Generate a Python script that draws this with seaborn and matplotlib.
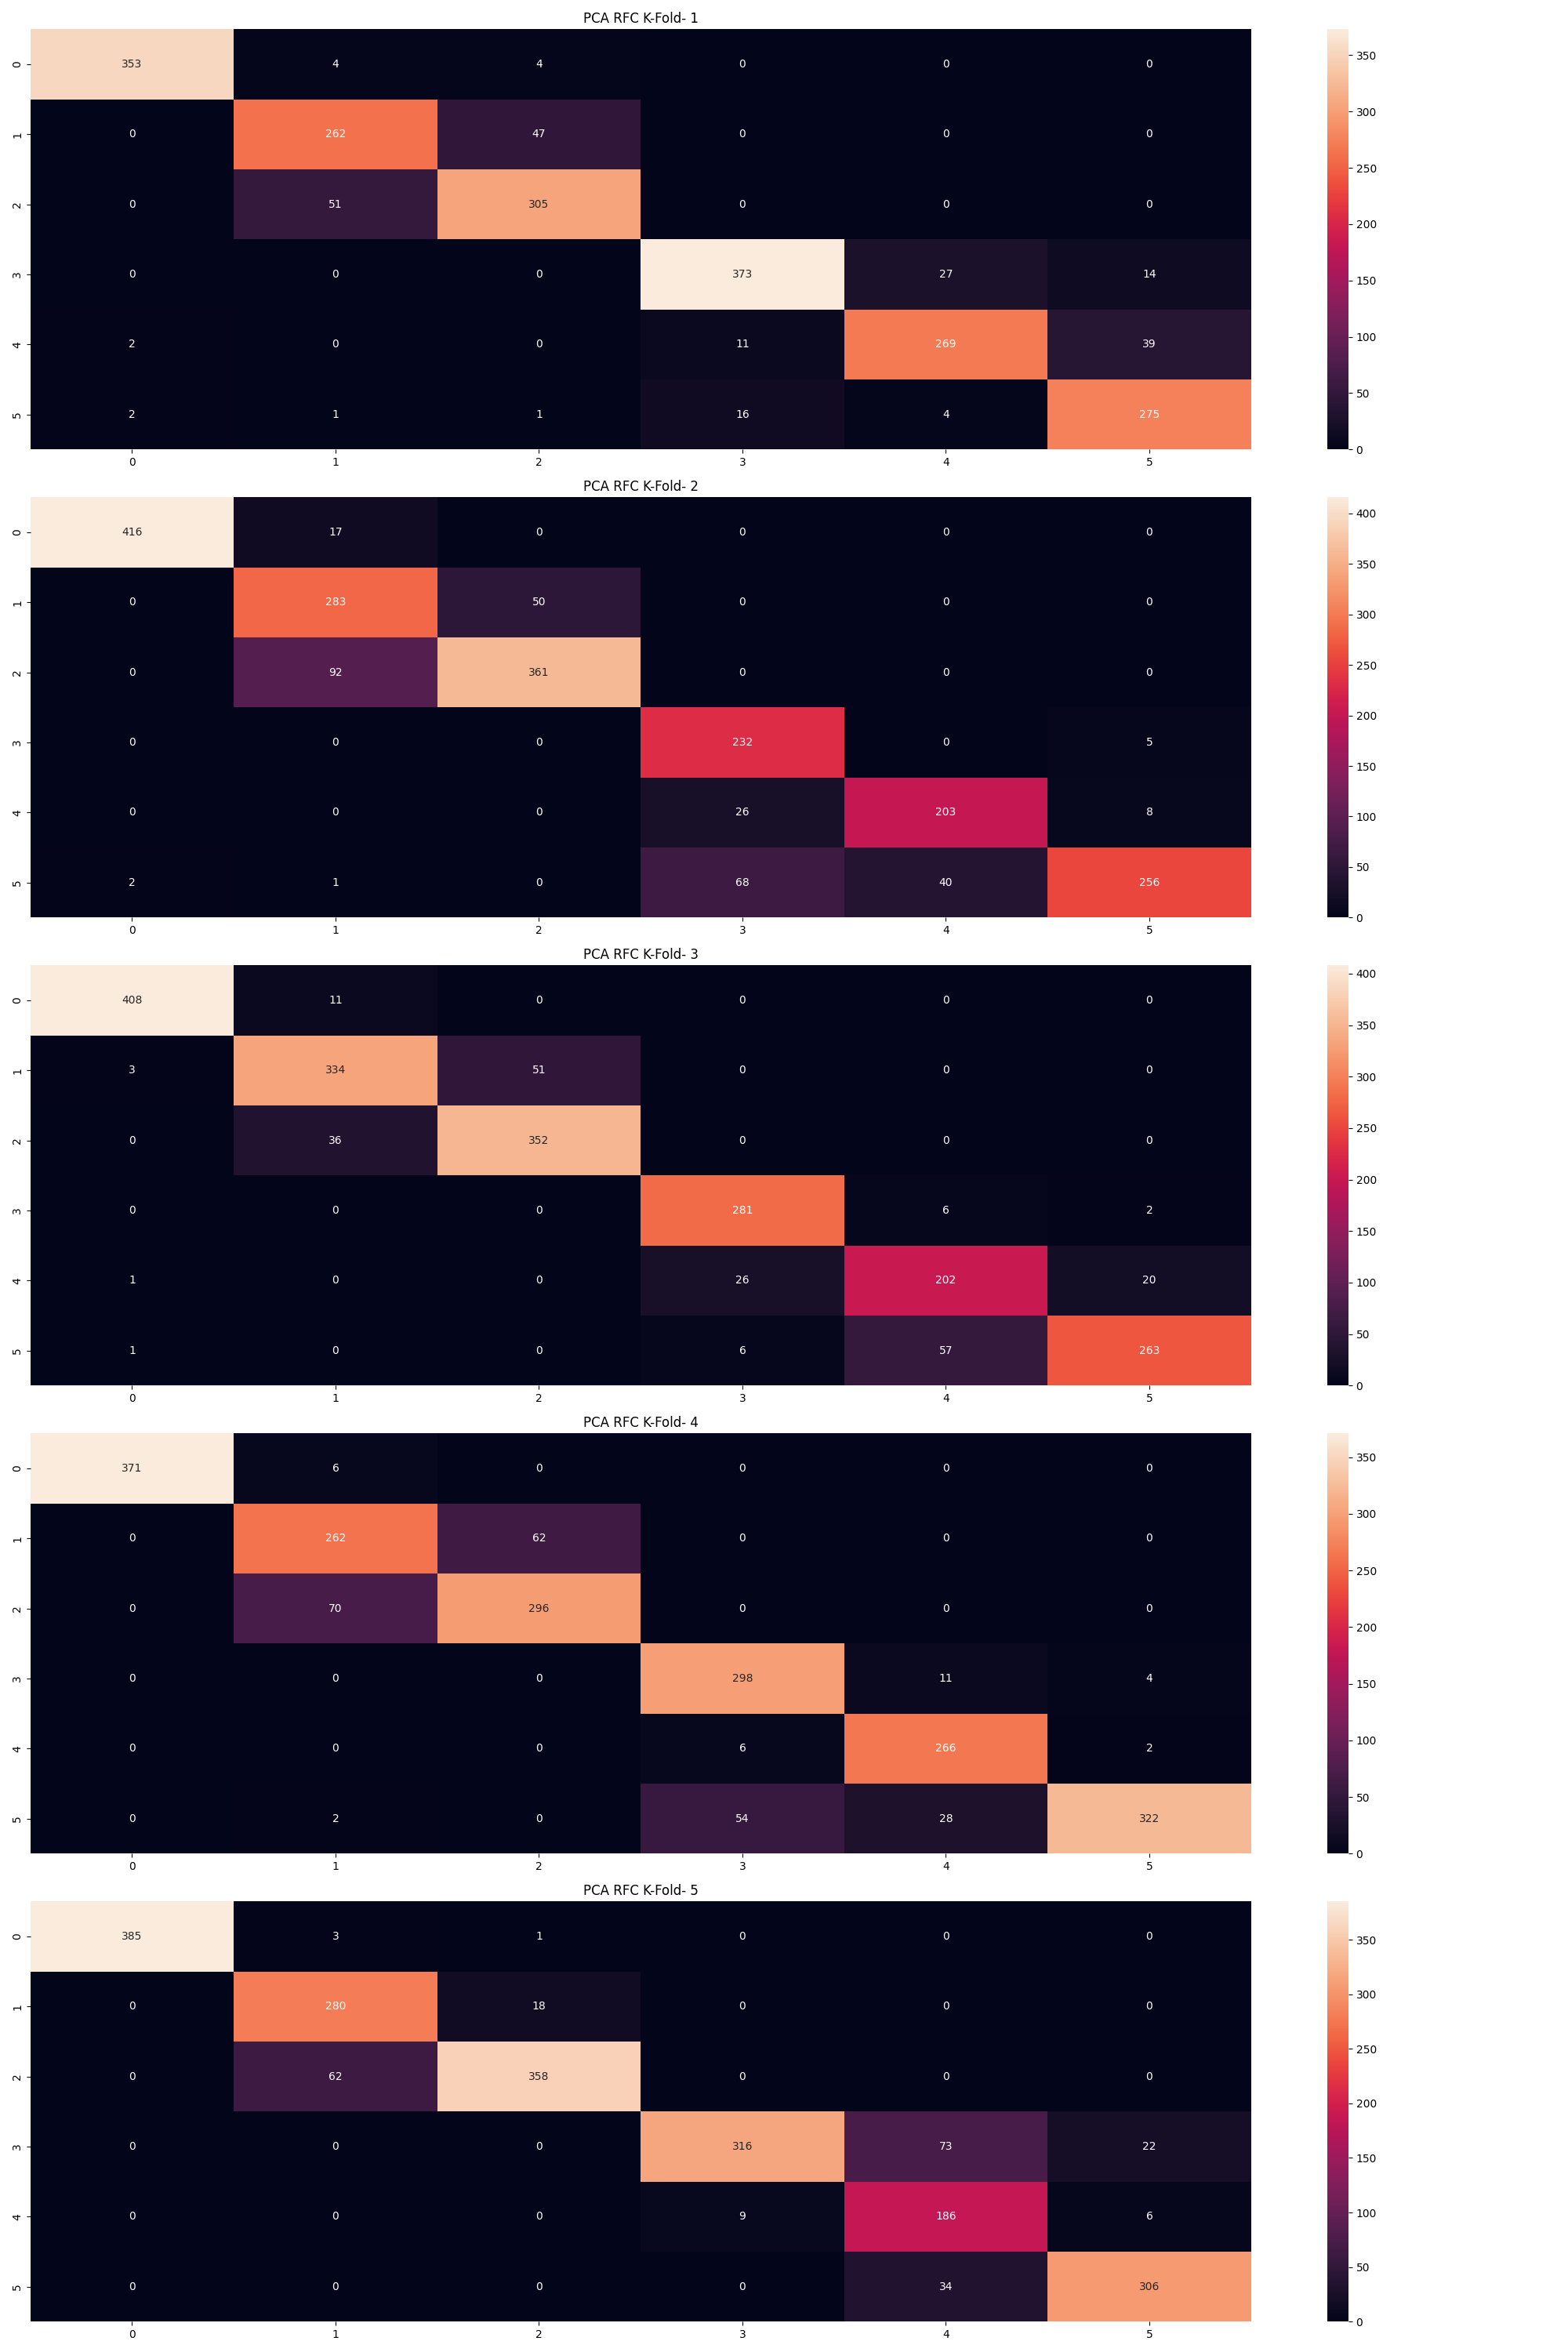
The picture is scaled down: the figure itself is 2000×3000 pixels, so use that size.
import numpy as np
import matplotlib
matplotlib.use("Agg")
import matplotlib.pyplot as plt
import seaborn as sns

# confusion matrices for each fold (rows = true, cols = predicted)
fold_1 = [[353, 4, 4, 0, 0, 0],
          [0, 262, 47, 0, 0, 0],
          [0, 51, 305, 0, 0, 0],
          [0, 0, 0, 373, 27, 14],
          [2, 0, 0, 11, 269, 39],
          [2, 1, 1, 16, 4, 275]]

fold_2 = [[416, 17, 0, 0, 0, 0],
          [0, 283, 50, 0, 0, 0],
          [0, 92, 361, 0, 0, 0],
          [0, 0, 0, 232, 0, 5],
          [0, 0, 0, 26, 203, 8],
          [2, 1, 0, 68, 40, 256]]

fold_3 = [[408, 11, 0, 0, 0, 0],
          [3, 334, 51, 0, 0, 0],
          [0, 36, 352, 0, 0, 0],
          [0, 0, 0, 281, 6, 2],
          [1, 0, 0, 26, 202, 20],
          [1, 0, 0, 6, 57, 263]]

fold_4 = [[371, 6, 0, 0, 0, 0],
          [0, 262, 62, 0, 0, 0],
          [0, 70, 296, 0, 0, 0],
          [0, 0, 0, 298, 11, 4],
          [0, 0, 0, 6, 266, 2],
          [0, 2, 0, 54, 28, 322]]

fold_5 = [[385, 3, 1, 0, 0, 0],
          [0, 280, 18, 0, 0, 0],
          [0, 62, 358, 0, 0, 0],
          [0, 0, 0, 316, 73, 22],
          [0, 0, 0, 9, 186, 6],
          [0, 0, 0, 0, 34, 306]]

folds = [fold_1, fold_2, fold_3, fold_4, fold_5]

fig, axes = plt.subplots(5, 1, figsize=(20, 30))
for i, cm in enumerate(folds):
    sns.heatmap(np.array(cm), annot=True, fmt='d', ax=axes[i])
    axes[i].set_title("PCA RFC K-Fold- " + str(i + 1))
plt.tight_layout()
plt.savefig("out.png", dpi=100)
